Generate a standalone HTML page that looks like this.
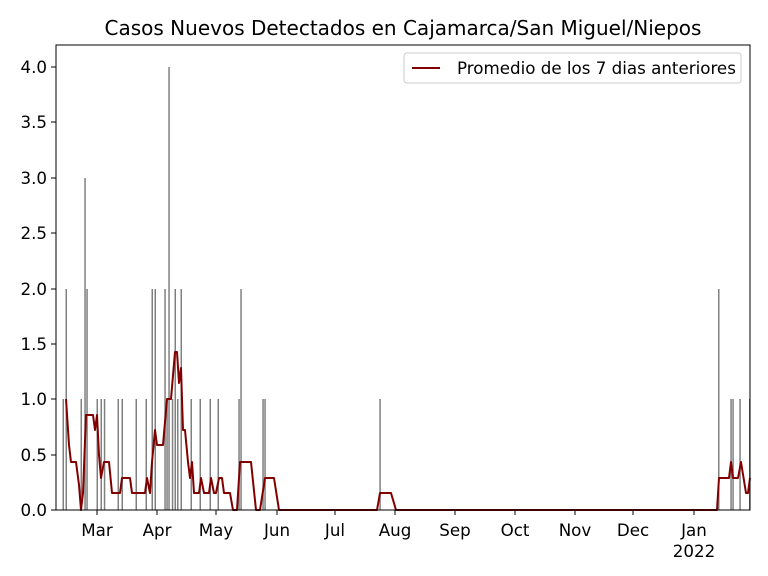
<!DOCTYPE html><html><head><style>body{margin:0;background:#fff}svg{display:block}text{font-family:"DejaVu Sans","Liberation Sans",sans-serif;fill:#000}</style></head><body>
<svg width="768" height="576" viewBox="0 0 768 576" xmlns="http://www.w3.org/2000/svg">
<rect width="768" height="576" fill="#fff"/>
<text x="403" y="35" font-size="20" text-anchor="middle">Casos Nuevos Detectados en Cajamarca/San Miguel/Niepos</text>
<g fill="#808080">
<rect x="62.5" y="399" width="1.5" height="111"/><rect x="65.5" y="289" width="1.5" height="221"/>
<rect x="80.5" y="399" width="1.5" height="111"/><rect x="84.3" y="178" width="1.5" height="332"/><rect x="86.3" y="289" width="1.5" height="221"/>
<rect x="96.5" y="399" width="1.5" height="111"/><rect x="100.5" y="399" width="1.5" height="111"/><rect x="103.8" y="399" width="1.5" height="111"/>
<rect x="117.5" y="399" width="1.5" height="111"/><rect x="121.5" y="399" width="1.5" height="111"/><rect x="135.5" y="399" width="1.5" height="111"/>
<rect x="145.5" y="399" width="1.5" height="111"/><rect x="151.5" y="289" width="1.5" height="221"/><rect x="154.5" y="289" width="1.5" height="221"/>
<rect x="164.3" y="289" width="1.5" height="221"/><rect x="166.3" y="399" width="1.5" height="111"/><rect x="168.3" y="67" width="1.5" height="443"/>
<rect x="171.8" y="399" width="1.5" height="111"/><rect x="174.5" y="289" width="1.5" height="221"/><rect x="177" y="399" width="1.5" height="111"/><rect x="180.5" y="289" width="1.5" height="221"/>
<rect x="190.5" y="399" width="1.5" height="111"/><rect x="199.5" y="399" width="1.5" height="111"/><rect x="209.5" y="399" width="1.5" height="111"/><rect x="217.5" y="399" width="1.5" height="111"/>
<rect x="238.3" y="399" width="1.5" height="111"/><rect x="240.3" y="289" width="1.5" height="221"/>
<rect x="262.3" y="399" width="1.5" height="111"/><rect x="264.3" y="399" width="1.5" height="111"/>
<rect x="379.3" y="399" width="1.5" height="111"/>
<rect x="718" y="289" width="1.5" height="221"/><rect x="730.3" y="399" width="1.5" height="111"/><rect x="732.3" y="399" width="1.5" height="111"/><rect x="739.3" y="399" width="1.5" height="111"/><rect x="749" y="399" width="1.5" height="111"/>
</g>
<polyline fill="none" stroke="#800000" stroke-width="2" stroke-linejoin="round" points="66,399 69,445 71,462 76,462 79,485 81,510 83,493 86,415 93,415 95,430 97,415 99,455 101,478 104,462 109,462 112,493 120,493 122,478 130,478 132,493 145,493 147,478 150,493 152,462 155,430 157,445 163,445 167,399 171,399 175,352 177,352 179,383 181,368 183,430 185,430 188,462 190,478 192,462 194,493 199,493 201,478 204,493 209,493 211,478 214,493 216,493 219,478 222,478 224,493 230,493 233,510 237,510 240,462 251,462 256,510 260,510 265,478 274,478 279,510 377,510 380,493 391,493 396,510 717,510 719,478 729,478 731,462 733,478 738,478 741,462 746,493 748,493 750,478"/>
<rect x="56" y="45" width="694" height="465" fill="none" stroke="#000" stroke-width="1"/>
<g stroke="#000" stroke-width="1">
<line x1="51" y1="510" x2="56" y2="510"/><line x1="51" y1="455" x2="56" y2="455"/><line x1="51" y1="399" x2="56" y2="399"/><line x1="51" y1="344" x2="56" y2="344"/><line x1="51" y1="289" x2="56" y2="289"/><line x1="51" y1="233" x2="56" y2="233"/><line x1="51" y1="178" x2="56" y2="178"/><line x1="51" y1="122" x2="56" y2="122"/><line x1="51" y1="67" x2="56" y2="67"/>
<line x1="97" y1="510" x2="97" y2="515"/><line x1="157" y1="510" x2="157" y2="515"/><line x1="216" y1="510" x2="216" y2="515"/><line x1="277" y1="510" x2="277" y2="515"/><line x1="335" y1="510" x2="335" y2="515"/><line x1="395" y1="510" x2="395" y2="515"/><line x1="455" y1="510" x2="455" y2="515"/><line x1="515" y1="510" x2="515" y2="515"/><line x1="575" y1="510" x2="575" y2="515"/><line x1="633" y1="510" x2="633" y2="515"/><line x1="694" y1="510" x2="694" y2="515"/>
</g>
<g font-size="16.7" text-anchor="end">
<text x="47" y="516">0.0</text><text x="47" y="461">0.5</text><text x="47" y="405">1.0</text><text x="47" y="350">1.5</text><text x="47" y="295">2.0</text><text x="47" y="239">2.5</text><text x="47" y="184">3.0</text><text x="47" y="128">3.5</text><text x="47" y="73">4.0</text>
</g>
<g font-size="16.7" text-anchor="middle">
<text x="97" y="536">Mar</text><text x="157" y="536">Apr</text><text x="216" y="536">May</text><text x="277" y="536">Jun</text><text x="335" y="536">Jul</text><text x="395" y="536">Aug</text><text x="455" y="536">Sep</text><text x="515" y="536">Oct</text><text x="575" y="536">Nov</text><text x="633" y="536">Dec</text><text x="694" y="536">Jan</text><text x="694" y="557">2022</text>
</g>
<rect x="404" y="53" width="337" height="30" rx="3" fill="#fff" stroke="#ccc"/>
<line x1="412" y1="68" x2="440" y2="68" stroke="#800000" stroke-width="2"/>
<text x="457" y="74" font-size="16.7">Promedio de los 7 dias anteriores</text>
</svg></body></html>
